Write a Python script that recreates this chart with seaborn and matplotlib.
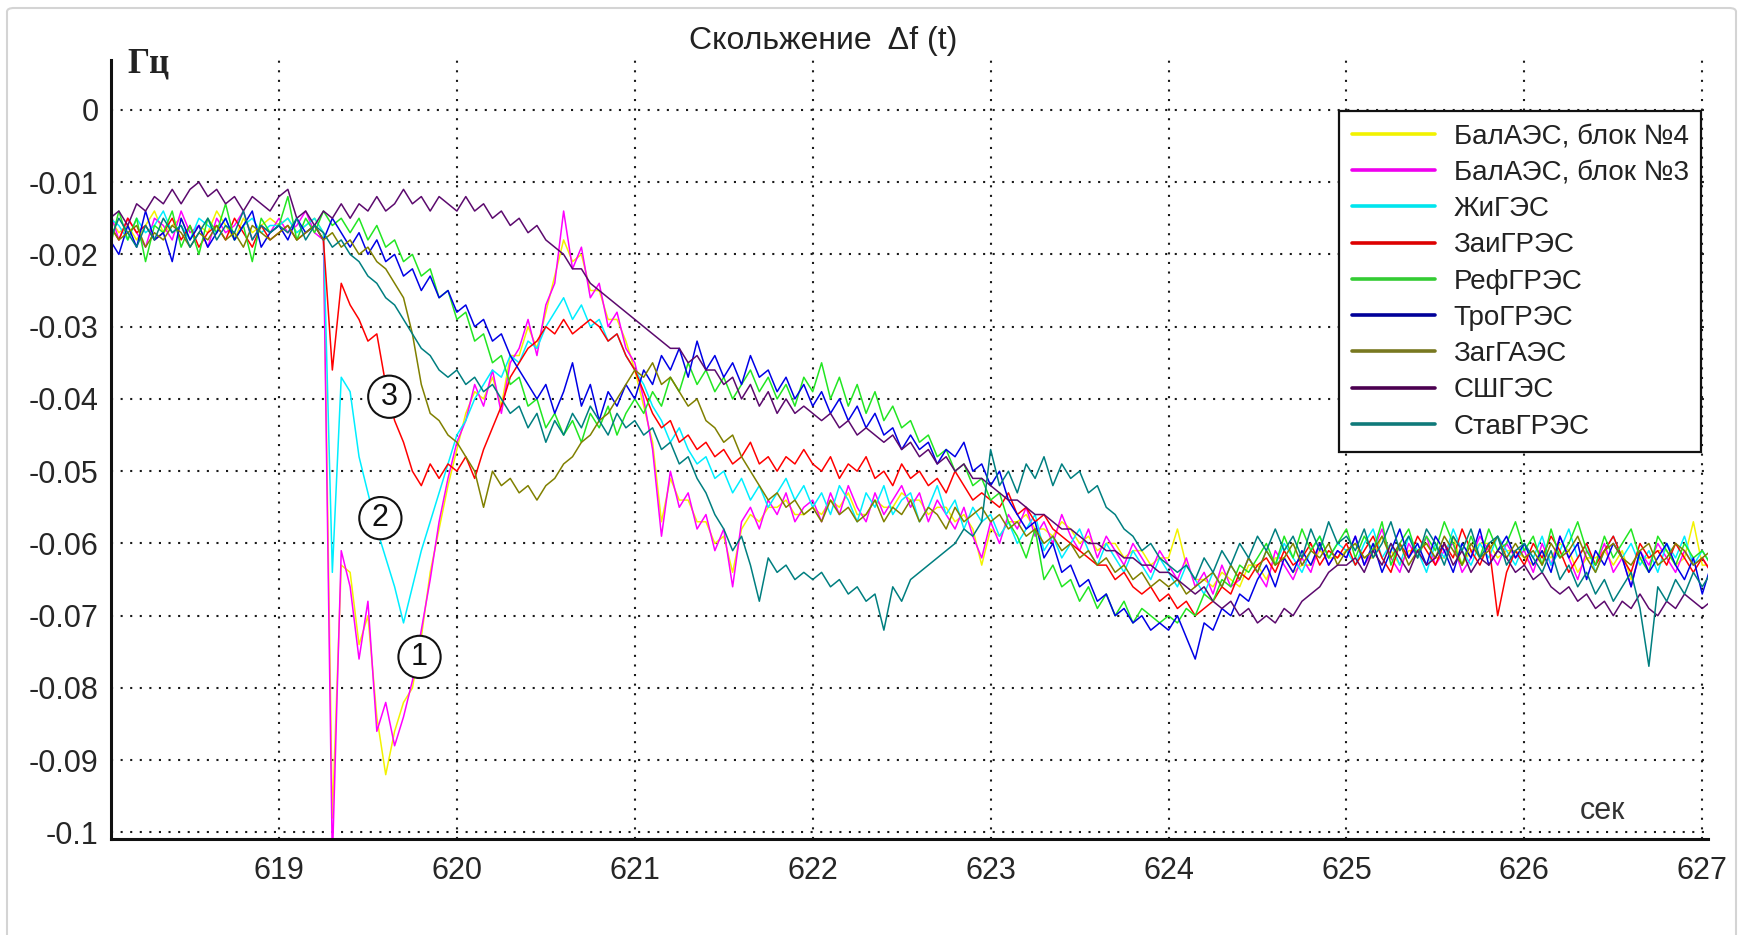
import numpy as np
import pandas as pd
import matplotlib
matplotlib.use("Agg")
import matplotlib.pyplot as plt
from matplotlib.lines import Line2D
from matplotlib.patches import FancyBboxPatch
import seaborn as sns

# Sampling of the recorded slip traces
T0 = 618.00   # time of first sample, s
DT = 0.05     # sampling step, s

stations = ["БалАЭС, блок №4", "БалАЭС, блок №3", "ЖиГЭС", "ЗаиГРЭС", "РефГРЭС",
            "ТроГРЭС", "ЗагГАЭС", "СШГЭС", "СтавГРЭС"]
line_colors = ["#f2f200", "#ff00ff", "#00eeff", "#ff0000", "#22e622",
               "#0000e6", "#808000", "#5c0a6e", "#007f80"]
legend_colors = ["#f2f200", "#ee00ee", "#00e5ee", "#dd0000", "#33cc33",
                 "#000099", "#787820", "#4b0050", "#0f7a7a"]

# Slip Δf per station, mHz (one row per second)
bal4_mhz = [
    -16, -15, -17, -16, -18, -16, -14, -17, -16, -15, -18, -16, -17, -14, -16, -18, -15, -17, -16, -15,
    -16, -15, -17, -16, -15, -17, -98, -63, -64, -74, -70, -84, -92, -86, -82, -80, -73, -64, -58, -52,
    -47, -42, -39, -40, -37, -41, -34, -34, -30, -33, -28, -23, -18, -21, -20, -25, -25, -29, -29, -32,
    -36, -41, -46, -57, -51, -54, -54, -57, -57, -60, -59, -64, -58, -56, -57, -55, -55, -54, -56, -56,
    -55, -56, -54, -55, -53, -56, -56, -54, -55, -55, -53, -54, -54, -56, -55, -55, -57, -56, -58, -63,
    -58, -59, -57, -57, -56, -58, -58, -59, -57, -58, -60, -59, -61, -60, -60, -62, -61, -61, -63, -62,
    -62, -58, -63, -65, -65, -66, -64, -65, -66, -63, -63, -65, -62, -62, -64, -63, -63, -61, -62, -62,
    -61, -60, -62, -62, -59, -61, -63, -61, -61, -60, -62, -62, -59, -63, -61, -60, -60, -62, -61, -61,
    -62, -63, -61, -62, -60, -61, -64, -62, -62, -61, -63, -61, -65, -62, -62, -61, -61, -63, -62, -57,
    -63, -63,
]
bal3_mhz = [
    -16, -14, -18, -15, -17, -19, -15, -16, -18, -14, -17, -16, -19, -15, -17, -16, -14, -18, -16, -17,
    -15, -17, -16, -14, -17, -18, -104, -61, -66, -76, -68, -86, -82, -88, -84, -79, -72, -65, -57, -51,
    -46, -43, -38, -41, -36, -42, -35, -33, -29, -34, -27, -24, -14, -22, -19, -26, -24, -30, -28, -33,
    -35, -40, -47, -59, -50, -55, -53, -58, -56, -61, -58, -66, -57, -55, -58, -54, -56, -53, -57, -55,
    -54, -57, -53, -56, -52, -55, -57, -53, -56, -54, -52, -55, -53, -57, -54, -56, -58, -55, -59, -62,
    -57, -60, -56, -58, -55, -59, -57, -60, -56, -59, -61, -58, -62, -59, -61, -63, -60, -62, -64, -61,
    -63, -65, -62, -66, -64, -67, -63, -66, -65, -62, -64, -66, -61, -63, -65, -62, -64, -60, -63, -61,
    -62, -59, -63, -61, -58, -62, -64, -60, -62, -59, -63, -61, -60, -64, -62, -59, -61, -63, -60, -62,
    -61, -64, -60, -63, -59, -62, -65, -61, -63, -60, -64, -62, -66, -61, -63, -60, -62, -64, -61, -63,
    -62, -64,
]
zhi_mhz = [
    -17, -15, -16, -18, -15, -17, -16, -14, -17, -16, -18, -15, -16, -17, -15, -18, -16, -15, -17, -16,
    -16, -15, -17, -16, -15, -17, -64, -37, -39, -48, -53, -58, -62, -66, -71, -66, -61, -57, -53, -49,
    -45, -43, -40, -38, -36, -37, -34, -35, -32, -33, -30, -28, -26, -29, -27, -30, -29, -32, -31, -34,
    -36, -38, -41, -43, -46, -44, -47, -49, -48, -51, -50, -53, -51, -54, -52, -55, -53, -51, -54, -52,
    -55, -53, -56, -52, -54, -57, -53, -55, -52, -56, -54, -53, -57, -55, -52, -56, -54, -58, -55, -57,
    -56, -59, -57, -60, -58, -56, -61, -59, -62, -60, -58, -61, -63, -60, -62, -64, -61, -63, -65, -62,
    -64, -66, -63, -65, -67, -64, -66, -63, -65, -62, -64, -61, -63, -60, -62, -64, -61, -59, -62, -60,
    -61, -63, -60, -58, -62, -60, -63, -59, -61, -64, -60, -62, -58, -61, -63, -60, -62, -59, -61, -63,
    -60, -62, -59, -63, -61, -58, -62, -60, -64, -61, -59, -62, -60, -63, -61, -64, -60, -62, -59, -63,
    -61, -63,
]
zai_mhz = [
    -17, -16, -18, -15, -17, -16, -18, -17, -15, -18, -16, -19, -17, -16, -18, -15, -17, -19, -16, -18,
    -17, -16, -18, -17, -16, -18, -36, -24, -27, -29, -32, -31, -38, -43, -46, -50, -52, -49, -51, -49,
    -50, -48, -51, -47, -44, -41, -37, -35, -33, -32, -30, -31, -29, -31, -30, -29, -30, -32, -31, -34,
    -36, -39, -42, -44, -43, -46, -45, -47, -46, -48, -47, -49, -48, -46, -49, -48, -50, -48, -49, -47,
    -49, -50, -48, -51, -49, -50, -48, -51, -50, -52, -49, -51, -50, -52, -51, -53, -50, -52, -54, -53,
    -54, -55, -53, -56, -55, -57, -56, -58, -59, -60, -61, -62, -63, -63, -65, -64, -66, -67, -66, -68,
    -67, -69, -68, -70, -69, -68, -66, -67, -64, -65, -63, -62, -64, -61, -63, -62, -60, -63, -61, -62,
    -60, -63, -61, -59, -62, -64, -60, -62, -59, -61, -63, -60, -62, -58, -61, -63, -60, -70, -64, -61,
    -63, -60, -62, -59, -61, -64, -62, -60, -63, -61, -59, -62, -64, -60, -62, -61, -63, -60, -62, -64,
    -62, -64,
]
ref_mhz = [
    -16, -19, -14, -18, -15, -21, -16, -17, -14, -19, -16, -20, -15, -17, -13, -18, -16, -21, -15, -17,
    -16, -12, -18, -15, -17, -14, -16, -15, -17, -15, -18, -16, -19, -18, -21, -20, -23, -22, -26, -25,
    -29, -28, -32, -31, -35, -34, -38, -37, -41, -40, -44, -42, -45, -43, -46, -42, -44, -41, -45, -42,
    -40, -42, -39, -41, -37, -39, -35, -38, -36, -39, -37, -40, -38, -36, -39, -37, -40, -38, -41, -37,
    -39, -35, -40, -37, -41, -38, -42, -39, -43, -41, -44, -43, -46, -45, -48, -47, -50, -49, -52, -51,
    -54, -53, -57, -59, -62, -58, -65, -63, -66, -65, -68, -66, -69, -67, -70, -68, -71, -69, -70, -71,
    -70, -71, -69, -70, -67, -68, -65, -66, -63, -64, -62, -60, -63, -59, -62, -58, -61, -59, -62, -60,
    -58, -62, -59, -61, -57, -63, -60, -58, -62, -59, -61, -57, -60, -63, -59, -62, -58, -61, -60, -57,
    -61, -59, -63, -58, -62, -60, -57, -61, -63, -59, -62, -60, -58, -62, -64, -59, -61, -63, -60, -62,
    -61, -63,
]
tro_mhz = [
    -15, -18, -20, -16, -19, -14, -18, -17, -21, -15, -18, -16, -19, -17, -15, -18, -16, -14, -19, -17,
    -16, -18, -15, -17, -16, -18, -15, -17, -19, -17, -20, -18, -21, -20, -23, -22, -25, -23, -26, -25,
    -28, -27, -30, -29, -32, -31, -34, -36, -38, -40, -38, -42, -39, -35, -41, -38, -43, -39, -41, -38,
    -40, -36, -38, -34, -36, -33, -37, -32, -36, -34, -37, -35, -38, -34, -37, -36, -39, -37, -40, -38,
    -41, -39, -42, -40, -43, -41, -44, -42, -45, -44, -47, -45, -47, -46, -49, -47, -48, -46, -50, -49,
    -52, -50, -54, -56, -58, -57, -62, -60, -64, -63, -66, -65, -68, -67, -70, -69, -71, -70, -72, -71,
    -72, -70, -73, -76, -71, -72, -69, -70, -67, -68, -65, -63, -66, -62, -64, -61, -63, -60, -63, -61,
    -62, -59, -63, -60, -64, -61, -58, -62, -60, -63, -59, -61, -64, -60, -62, -58, -63, -61, -59, -62,
    -60, -63, -61, -64, -59, -62, -60, -65, -61, -63, -60, -62, -66, -61, -64, -62, -60, -63, -65, -62,
    -67, -63,
]
zag_mhz = [
    -17, -16, -18, -17, -16, -19, -17, -18, -16, -17, -19, -17, -18, -16, -18, -17, -19, -16, -17, -18,
    -17, -16, -18, -17, -16, -18, -17, -19, -18, -20, -19, -21, -22, -24, -26, -31, -38, -42, -43, -45,
    -46, -48, -50, -55, -50, -52, -51, -53, -52, -54, -52, -51, -49, -48, -46, -45, -43, -42, -40, -38,
    -36, -37, -35, -38, -37, -39, -41, -40, -43, -44, -46, -45, -48, -50, -52, -54, -53, -55, -54, -56,
    -55, -57, -54, -56, -55, -57, -56, -54, -57, -55, -56, -54, -57, -55, -56, -58, -55, -57, -56, -55,
    -57, -56, -58, -57, -59, -58, -60, -59, -61, -60, -62, -61, -63, -62, -64, -63, -65, -64, -66, -65,
    -66, -65, -67, -66, -65, -64, -66, -63, -65, -62, -64, -61, -63, -62, -60, -63, -61, -62, -60, -63,
    -61, -60, -62, -61, -59, -62, -60, -63, -61, -60, -62, -59, -61, -63, -60, -62, -61, -59, -62, -60,
    -62, -61, -63, -60, -62, -61, -59, -62, -64, -61, -60, -62, -63, -61, -60, -63, -62, -60, -61, -63,
    -62, -61,
]
ssh_mhz = [
    -16, -15, -14, -16, -13, -14, -12, -13, -11, -13, -11, -10, -12, -11, -13, -12, -14, -12, -13, -14,
    -12, -11, -15, -14, -16, -14, -15, -13, -15, -13, -14, -12, -14, -13, -11, -13, -12, -14, -12, -13,
    -14, -12, -14, -13, -15, -14, -16, -15, -17, -16, -18, -19, -20, -22, -22, -24, -25, -26, -27, -28,
    -29, -30, -31, -32, -33, -33, -35, -34, -36, -36, -38, -37, -40, -38, -41, -39, -42, -40, -42, -41,
    -42, -43, -42, -44, -43, -45, -44, -45, -46, -45, -47, -46, -48, -47, -49, -48, -50, -49, -51, -51,
    -52, -53, -54, -54, -55, -56, -56, -57, -58, -58, -59, -60, -60, -61, -61, -62, -62, -63, -63, -64,
    -64, -65, -66, -67, -66, -68, -69, -68, -70, -69, -71, -70, -71, -69, -70, -68, -67, -66, -64, -63,
    -63, -62, -64, -61, -63, -60, -62, -64, -61, -63, -62, -60, -63, -61, -64, -62, -63, -61, -62, -64,
    -63, -65, -64, -66, -67, -66, -68, -67, -69, -68, -70, -68, -69, -67, -69, -70, -68, -69, -67, -68,
    -69, -68,
]
stav_mhz = [
    -16, -18, -15, -17, -19, -16, -18, -15, -17, -16, -19, -17, -15, -18, -16, -17, -14, -18, -16, -17,
    -16, -17, -15, -18, -16, -17, -19, -18, -20, -21, -23, -24, -26, -27, -29, -31, -33, -34, -36, -37,
    -36, -38, -37, -39, -38, -40, -42, -41, -44, -42, -46, -43, -45, -42, -44, -41, -43, -45, -42, -44,
    -43, -45, -44, -47, -46, -49, -48, -51, -53, -56, -58, -61, -59, -63, -68, -62, -64, -63, -65, -64,
    -65, -64, -66, -65, -67, -66, -68, -67, -72, -66, -68, -65, -64, -63, -62, -61, -60, -58, -59, -57,
    -47, -52, -50, -53, -49, -51, -48, -52, -49, -51, -50, -53, -52, -55, -56, -58, -59, -61, -60, -62,
    -63, -64, -63, -65, -62, -64, -61, -63, -60, -62, -59, -61, -58, -61, -59, -62, -58, -61, -57, -60,
    -59, -61, -58, -62, -60, -57, -61, -59, -62, -58, -60, -63, -59, -61, -58, -62, -60, -59, -63, -61,
    -60, -62, -64, -61, -65, -63, -66, -64, -67, -65, -68, -66, -64, -69, -77, -66, -68, -65, -67, -64,
    -66, -64,
]
series_mhz = [bal4_mhz, bal3_mhz, zhi_mhz, zai_mhz, ref_mhz, tro_mhz, zag_mhz, ssh_mhz, stav_mhz]

xticks = [619, 620, 621, 622, 623, 624, 625, 626, 627]
xtick_labels = ["619", "620", "621", "622", "623", "624", "625", "626", "627"]
yticks = [0, -0.01, -0.02, -0.03, -0.04, -0.05, -0.06, -0.07, -0.08, -0.09, -0.1]
ytick_labels = ["0", "-0.01", "-0.02", "-0.03", "-0.04", "-0.05", "-0.06", "-0.07", "-0.08", "-0.09", "-0.1"]

# Circled markers: label, time, value
marks = [("3", 619.62, -0.0397), ("2", 619.57, -0.0565), ("1", 619.79, -0.0757)]

sns.set_style("white")
plt.rcParams["font.family"] = ["Liberation Sans", "DejaVu Sans"]

frames = []
for name, vals in zip(stations, series_mhz):
    v = np.asarray(vals, dtype=float) / 1000.0
    frames.append(pd.DataFrame({"t": T0 + DT * np.arange(len(v)), "df": v, "station": name}))
data = pd.concat(frames, ignore_index=True)

W, H = 1743, 935
fig = plt.figure(figsize=(W / 100, H / 100), dpi=100)
ax = fig.add_axes([111.2 / W, 1 - 839 / H, (1707.6 - 111.2) / W, (839 - 60) / H])

sns.lineplot(data=data, x="t", y="df", hue="station", hue_order=stations,
             palette=dict(zip(stations, line_colors)), estimator=None, sort=False,
             linewidth=1.1, legend=False, ax=ax)

ax.set_xlim(618.057, 627.03)
ax.set_ylim(-0.1009, 0.0069)
ax.set_xticks(xticks)
ax.set_xticklabels(xtick_labels)
ax.set_yticks(yticks)
ax.set_yticklabels(ytick_labels)
ax.set_xlabel("")
ax.set_ylabel("")

ax.set_axisbelow(True)
ax.grid(True, color="#1a1a1a", linestyle=(0, (1, 3.6)), linewidth=1.5)
for side in ("top", "right"):
    ax.spines[side].set_visible(False)
for side in ("left", "bottom"):
    ax.spines[side].set_color("#111111")
    ax.spines[side].set_linewidth(2.2)
ax.tick_params(axis="both", direction="in", length=7, width=2.2, color="#111111",
               labelsize=22, labelcolor="#262626")
ax.tick_params(axis="y", pad=9)
ax.tick_params(axis="x", pad=12)

for lab, tx, vy in marks:
    ax.text(tx, vy, lab, fontsize=22, ha="center", va="center", color="#111111", zorder=6,
            bbox=dict(boxstyle="circle,pad=0.2", fc="white", ec="#111111", lw=1.5))

ax.text(626.44, -0.0970, "сек", fontsize=22, ha="center", va="center", color="#333333")
fig.text(127 / W, 1 - 64 / H, "Гц", fontsize=25, fontweight="bold", ha="left", va="center",
         family=["Liberation Serif", "DejaVu Serif"], color="#222222")
fig.text(823 / W, 1 - 41 / H, "Скольжение  Δf (t)", fontsize=23, ha="center", va="center",
         color="#222222")

handles = [Line2D([], [], color=c, lw=2.6) for c in legend_colors]
leg = ax.legend(handles, stations, loc="upper right", bbox_to_anchor=(1701 / W, 1 - 111 / H),
                bbox_transform=fig.transFigure, frameon=True, fancybox=False, framealpha=1,
                edgecolor="#111111", fontsize=20, handlelength=3.0, handletextpad=0.66,
                labelspacing=0.37, borderpad=0.45, borderaxespad=0)
leg.get_frame().set_linewidth(1.6)
for txt in leg.get_texts():
    txt.set_color("#222222")

fig.add_artist(FancyBboxPatch((7 / W, -0.02), (1736 - 7) / W, 1.02 - 8 / H,
                              boxstyle="round,pad=0,rounding_size=0.004",
                              transform=fig.transFigure, fc="none", ec="#d4d4d4", lw=1.5))

fig.savefig("out.png", dpi=100, facecolor="white")
